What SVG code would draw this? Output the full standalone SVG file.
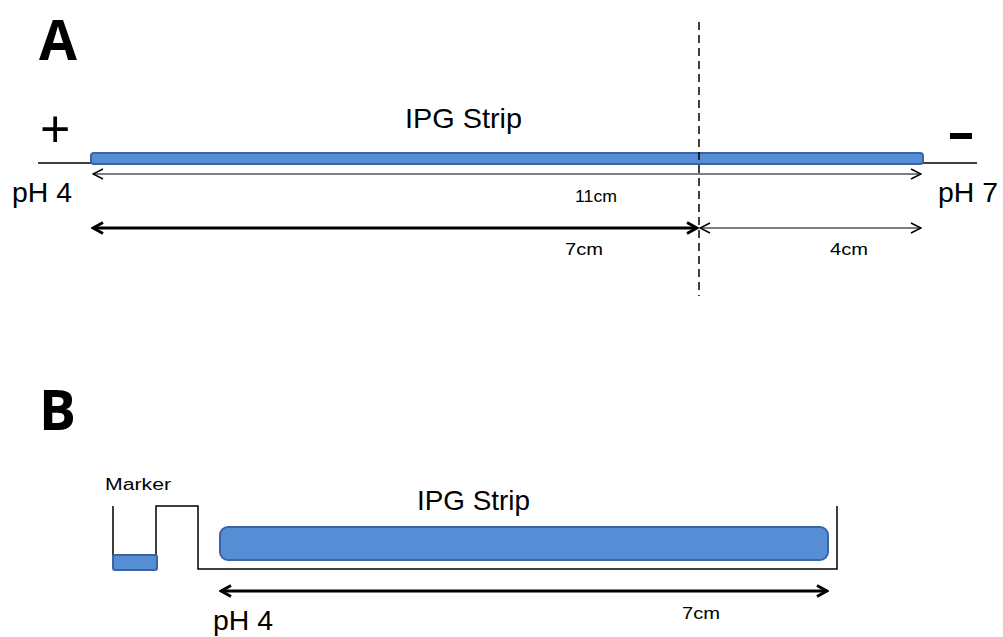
<svg xmlns="http://www.w3.org/2000/svg" width="1003" height="637" viewBox="0 0 1003 637">
  <defs>
    <marker id="openHead" viewBox="0 0 12 12" refX="11" refY="6" markerWidth="12" markerHeight="12" markerUnits="userSpaceOnUse" orient="auto-start-reverse">
      <path d="M1,1 L11,6 L1,11" fill="none" stroke="#000" stroke-width="1.4"/>
    </marker>
    <marker id="boldHead" viewBox="0 0 14 14" refX="12" refY="7" markerWidth="14" markerHeight="14" markerUnits="userSpaceOnUse" orient="auto-start-reverse">
      <path d="M2,1.5 L12,7 L2,12.5" fill="none" stroke="#000" stroke-width="3"/>
    </marker>
  </defs>
  <style>
    .lbl { font-family: "Liberation Sans", Arial, sans-serif; fill: #000; }
    .big { font-family: "Open Sans", "DejaVu Sans", sans-serif; font-weight: bold; font-size: 55px; }
    .strip { fill: #558ED5; stroke: #3C64A0; stroke-width: 2; }
    .line { stroke: #000; stroke-width: 1.5; fill: none; }
    .thin { stroke: #000; stroke-width: 1.2; fill: none; marker-start: url(#openHead); marker-end: url(#openHead); }
    .thick { stroke: #000; stroke-width: 3; fill: none; marker-start: url(#boldHead); marker-end: url(#boldHead); }
  </style>
  <rect width="1003" height="637" fill="#fff"/>

  <!-- Panel A -->
  <text class="big" x="39" y="60">A</text>
  <text class="lbl" x="40" y="147" font-size="52">+</text>
  <rect x="950" y="133" width="22" height="6" fill="#000"/>
  <line class="line" x1="38" y1="163" x2="92" y2="163"/>
  <line class="line" x1="922" y1="163" x2="977" y2="163"/>
  <g id="stripA">
    <rect class="strip" x="91" y="153" width="832" height="11" rx="3"/>
    <text class="lbl" x="405" y="128" font-size="28" textLength="117" lengthAdjust="spacingAndGlyphs">IPG Strip</text>
  </g>
  <text class="lbl" x="12" y="202" font-size="28" textLength="60" lengthAdjust="spacingAndGlyphs">pH 4</text>
  <text class="lbl" x="938" y="202" font-size="28" textLength="60" lengthAdjust="spacingAndGlyphs">pH 7</text>
  <line x1="699" y1="22" x2="699" y2="296" stroke="#000" stroke-width="1.5" stroke-dasharray="8,5"/>

  <g id="connectors">
    <line class="thin" x1="93" y1="174" x2="921" y2="174"/>
    <line class="thick" x1="93" y1="228" x2="697" y2="228"/>
    <line class="thin" x1="700" y1="228" x2="921" y2="228"/>
    <line class="thick" x1="221" y1="591" x2="827" y2="591"/>
  </g>
  <text class="lbl" x="575" y="202" font-size="17" textLength="42" lengthAdjust="spacingAndGlyphs">11cm</text>
  <text class="lbl" x="565" y="255" font-size="17" textLength="38" lengthAdjust="spacingAndGlyphs">7cm</text>
  <text class="lbl" x="830" y="255" font-size="17" textLength="38" lengthAdjust="spacingAndGlyphs">4cm</text>

  <!-- Panel B -->
  <text class="big" x="39" y="430">B</text>
  <g id="gel">
    <path class="line" d="M113,506 L113,556 M156,556 L156,506 L198,506 L198,569 L837,569 L837,506"/>
  </g>
  <g id="marker">
    <rect class="strip" x="113" y="555" width="44" height="15" rx="2"/>
    <text class="lbl" x="105" y="490" font-size="16" textLength="66" lengthAdjust="spacingAndGlyphs">Marker</text>
  </g>
  <g id="stripB">
    <rect class="strip" x="220" y="527" width="608" height="33" rx="8"/>
    <text class="lbl" x="417" y="510" font-size="28" textLength="113" lengthAdjust="spacingAndGlyphs">IPG Strip</text>
  </g>
  <text class="lbl" x="213" y="630" font-size="28" textLength="60" lengthAdjust="spacingAndGlyphs">pH 4</text>
  <text class="lbl" x="682" y="619" font-size="17" textLength="38" lengthAdjust="spacingAndGlyphs">7cm</text>
</svg>
